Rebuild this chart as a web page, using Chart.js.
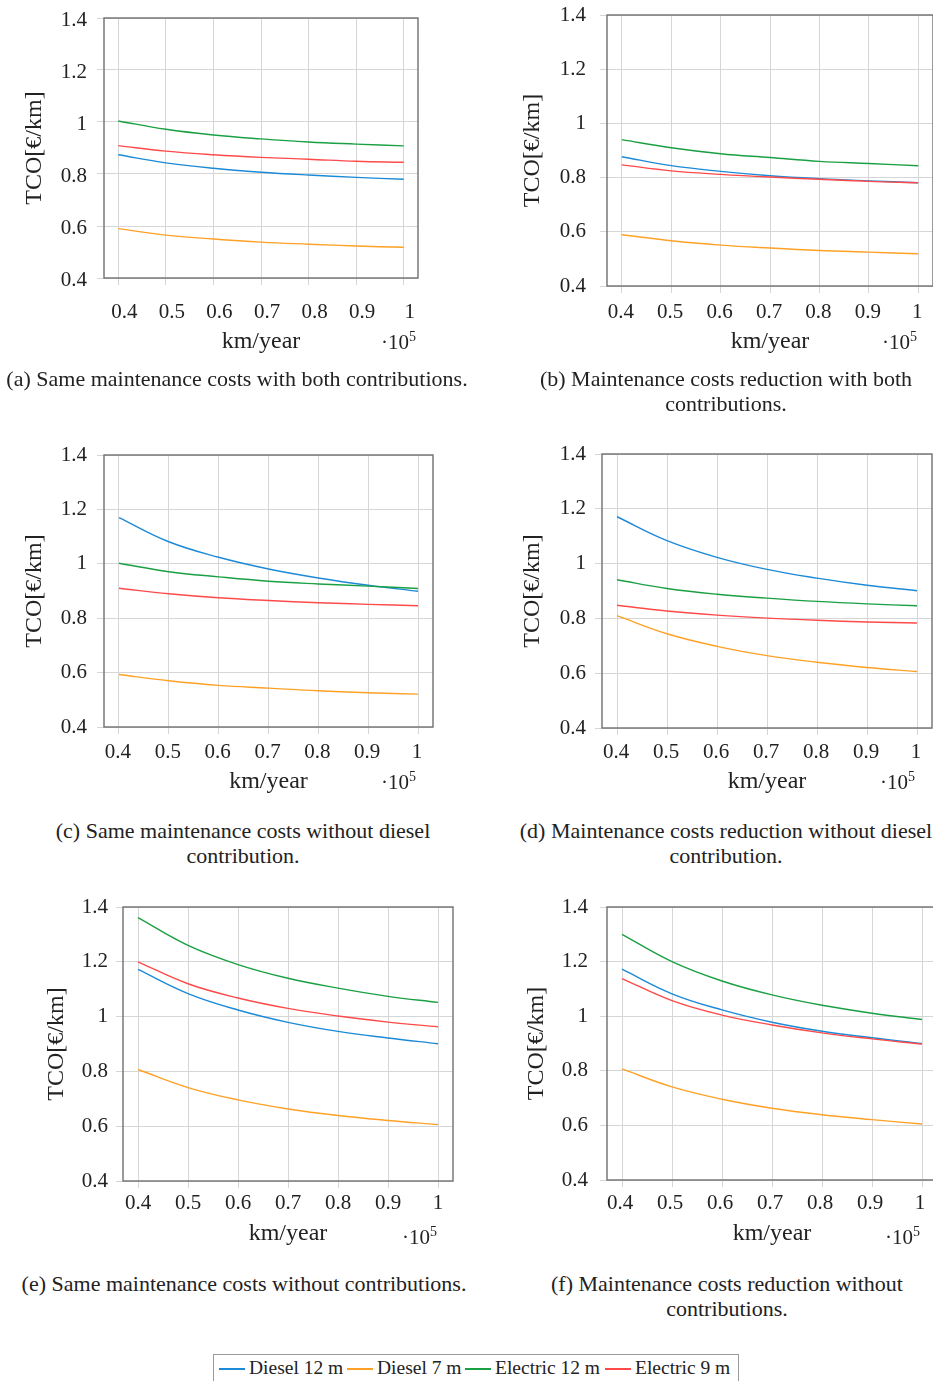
<!DOCTYPE html>
<html>
<head>
<meta charset="utf-8">
<script src="https://cdn.jsdelivr.net/npm/chart.js@4"></script>
<style>
  html, body { margin: 0; padding: 0; background: #fff; }
  #page { position: relative; width: 933px; height: 1381px; overflow: hidden; background: #fff;
          font-family: "Liberation Serif", "DejaVu Serif", serif; color: #222; }
  canvas { position: absolute; }
  .cap { position: absolute; text-align: center; font-size: 22px; line-height: 25px; white-space: nowrap; }
  .pow { position: absolute; width: 120px; text-align: right; font-size: 21px; line-height: 24px; white-space: nowrap; }
  .pow sup { font-size: 14px; vertical-align: 8px; line-height: 0; }
  #legend { position: absolute; left: 213px; top: 1354px; width: 526px; height: 34px; border: 1px solid #9a9a9a;
            box-sizing: border-box; font-size: 19.5px; line-height: 24px; }
  .sw { position: absolute; top: 13px; width: 26px; height: 1.5px; }
  .lt { position: absolute; top: 1px; white-space: nowrap; }
</style>
</head>
<body>
<div id="page"></div>
<script>
// ---------- data ----------
const kmYear = [0.4, 0.5, 0.6, 0.7, 0.8, 0.9, 1.0];          // ×10^5 km/year
const xTickValues = [0.4, 0.5, 0.6, 0.7, 0.8, 0.9, 1.0];
const xTickLabels = ['0.4', '0.5', '0.6', '0.7', '0.8', '0.9', '1'];
const yTickValues = [0.4, 0.6, 0.8, 1.0, 1.2, 1.4];
const yTickLabels = ['0.4', '0.6', '0.8', '1', '1.2', '1.4'];
const seriesNames = ['Diesel 12 m', 'Diesel 7 m', 'Electric 12 m', 'Electric 9 m'];
const xAxisTitle = 'km/year';
const yAxisTitle = 'TCO[€/km]';

// (a) Same maintenance costs with both contributions
const aDiesel12   = [0.874, 0.843, 0.822, 0.807, 0.796, 0.787, 0.780];
const aDiesel7    = [0.590, 0.565, 0.550, 0.538, 0.530, 0.523, 0.518];
const aElectric12 = [1.004, 0.972, 0.950, 0.935, 0.923, 0.915, 0.908];
const aElectric9  = [0.909, 0.888, 0.874, 0.864, 0.857, 0.849, 0.845];
// (b) Maintenance costs reduction with both contributions
const bDiesel12   = [0.877, 0.844, 0.823, 0.807, 0.796, 0.788, 0.781];
const bDiesel7    = [0.589, 0.567, 0.551, 0.540, 0.531, 0.525, 0.519];
const bElectric12 = [0.940, 0.910, 0.888, 0.874, 0.860, 0.852, 0.844];
const bElectric9  = [0.847, 0.825, 0.812, 0.802, 0.794, 0.786, 0.781];
// (c) Same maintenance costs without diesel contribution
const cDiesel12   = [1.170, 1.081, 1.024, 0.981, 0.948, 0.921, 0.899];
const cDiesel7    = [0.593, 0.570, 0.553, 0.543, 0.533, 0.526, 0.521];
const cElectric12 = [1.002, 0.971, 0.952, 0.936, 0.926, 0.918, 0.909];
const cElectric9  = [0.910, 0.890, 0.875, 0.865, 0.857, 0.851, 0.846];
// (d) Maintenance costs reduction without diesel contribution
const dDiesel12   = [1.171, 1.084, 1.023, 0.979, 0.947, 0.921, 0.901];
const dDiesel7    = [0.810, 0.744, 0.698, 0.664, 0.640, 0.621, 0.606];
const dElectric12 = [0.941, 0.909, 0.888, 0.874, 0.862, 0.853, 0.846];
const dElectric9  = [0.848, 0.827, 0.812, 0.801, 0.793, 0.787, 0.783];
// (e) Same maintenance costs without contributions
const eDiesel12   = [1.172, 1.084, 1.024, 0.979, 0.946, 0.922, 0.901];
const eDiesel7    = [0.807, 0.741, 0.696, 0.663, 0.639, 0.621, 0.606];
const eElectric12 = [1.361, 1.260, 1.190, 1.140, 1.104, 1.074, 1.052];
const eElectric9  = [1.200, 1.120, 1.068, 1.030, 1.002, 0.980, 0.963];
// (f) Maintenance costs reduction without contributions
const fDiesel12   = [1.172, 1.082, 1.023, 0.978, 0.945, 0.921, 0.900];
const fDiesel7    = [0.807, 0.741, 0.696, 0.663, 0.639, 0.621, 0.605];
const fElectric12 = [1.300, 1.200, 1.129, 1.078, 1.040, 1.011, 0.988];
const fElectric9  = [1.138, 1.057, 1.004, 0.968, 0.939, 0.917, 0.898];

const captionA = ['(a) Same maintenance costs with both contributions.'];
const captionB = ['(b) Maintenance costs reduction with both', 'contributions.'];
const captionC = ['(c) Same maintenance costs without diesel', 'contribution.'];
const captionD = ['(d) Maintenance costs reduction without diesel', 'contribution.'];
const captionE = ['(e) Same maintenance costs without contributions.'];
const captionF = ['(f) Maintenance costs reduction without', 'contributions.'];

// ---------- styling / layout ----------
const seriesColors = ['#1c8ad6', '#ffa126', '#1aa043', '#ff4a4a'];
const legendSwatchX = [5, 133, 251, 391];     // px inside legend box
const legendTextX = [35, 163, 281, 421];
const FONT = '"Liberation Serif", "DejaVu Serif", serif';
const TICK_SIZE = 21, TITLE_SIZE = 24;
const TICK_LH = TICK_SIZE * 1.2, TITLE_LH = TITLE_SIZE * 1.2;
const TICK_LEN = 7;
const PAD_L = 110, PAD_T = 45, PAD_R = 12, PAD_B = 90;

const panels = [
  { series: [aDiesel12, aDiesel7, aElectric12, aElectric9], caption: captionA,
    L: 104, R: 418, T: 18, B: 278, yGap: 17, yTitleX: 35, xTickY: 312, xTitleY: 342,
    xLabOff: 6, yLabOff: 2, powRight: 416, powY: 342, capX: 237, capY: 366 },
  { series: [bDiesel12, bDiesel7, bElectric12, bElectric9], caption: captionB,
    L: 607, R: 933, T: 15, B: 286, yGap: 21, yTitleX: 533, xTickY: 312, xTitleY: 342,
    xLabOff: -1, yLabOff: 0, powRight: 917, powY: 342, capX: 726, capY: 366 },
  { series: [cDiesel12, cDiesel7, cElectric12, cElectric9], caption: captionC,
    L: 104, R: 433, T: 455, B: 727, yGap: 17, yTitleX: 35, xTickY: 752, xTitleY: 782,
    xLabOff: -1, yLabOff: 0, powRight: 416, powY: 782, capX: 243, capY: 818 },
  { series: [dDiesel12, dDiesel7, dElectric12, dElectric9], caption: captionD,
    L: 602, R: 932, T: 454, B: 728, yGap: 16, yTitleX: 533, xTickY: 752, xTitleY: 782,
    xLabOff: -1, yLabOff: 0, powRight: 915, powY: 782, capX: 726, capY: 818 },
  { series: [eDiesel12, eDiesel7, eElectric12, eElectric9], caption: captionE,
    L: 123, R: 453, T: 907, B: 1181, yGap: 15, yTitleX: 57, xTickY: 1203, xTitleY: 1234,
    xLabOff: 0, yLabOff: 0, powRight: 437, powY: 1237, capX: 244, capY: 1271 },
  { series: [fDiesel12, fDiesel7, fElectric12, fElectric9], caption: captionF,
    L: 607, R: 937, T: 907, B: 1180, yGap: 19, yTitleX: 537, xTickY: 1203, xTitleY: 1234,
    xLabOff: -2, yLabOff: 0, powRight: 920, powY: 1237, capX: 727, capY: 1271 }
];

const framePlugin = {
  id: 'frame',
  afterDraw(chart) {
    const a = chart.chartArea, ctx = chart.ctx;
    ctx.save();
    ctx.strokeStyle = '#6f6f6f';
    ctx.lineWidth = 1.4;
    ctx.strokeRect(a.left, a.top, a.right - a.left, a.bottom - a.top);
    ctx.restore();
  }
};

const page = document.getElementById('page');

panels.forEach((p) => {
  const cv = document.createElement('canvas');
  const w = p.R - p.L + PAD_L + PAD_R, h = p.B - p.T + PAD_T + PAD_B;
  cv.style.left = (p.L - PAD_L) + 'px';
  cv.style.top = (p.T - PAD_T) + 'px';
  cv.style.width = w + 'px';
  cv.style.height = h + 'px';
  cv.width = w; cv.height = h;
  page.appendChild(cv);

  const datasets = p.series.map((vals, i) => ({
    label: seriesNames[i],
    data: kmYear.map((x, k) => ({ x: x, y: vals[k] })),
    borderColor: seriesColors[i],
    backgroundColor: seriesColors[i],
    borderWidth: 1.4,
    pointRadius: 0,
    fill: false,
    tension: 0.4,
    order: 4 - i
  }));

  new Chart(cv, {
    type: 'line',
    data: { datasets },
    options: {
      responsive: false,
      animation: false,
      devicePixelRatio: 1,
      layout: { padding: { left: 0, top: PAD_T, right: PAD_R, bottom: 0 } },
      plugins: { legend: { display: false }, tooltip: { enabled: false } },
      scales: {
        x: {
          type: 'linear', min: 0.37, max: 1.03,
          afterBuildTicks: (s) => { s.ticks = xTickValues.map(v => ({ value: v })); },
          afterFit: (s) => { s.height = PAD_B; },
          ticks: {
            callback: (v, i) => xTickLabels[i],
            font: { family: FONT, size: TICK_SIZE }, color: '#222',
            padding: p.xTickY - p.B - TICK_LEN - TICK_LH / 2,
            labelOffset: p.xLabOff, maxRotation: 0, autoSkip: false
          },
          grid: { color: '#d6d6d6', lineWidth: 1, drawTicks: true, tickLength: TICK_LEN, tickColor: '#d6d6d6' },
          border: { display: false },
          title: { display: true, text: xAxisTitle, font: { family: FONT, size: TITLE_SIZE }, color: '#222',
                   padding: { top: 0, bottom: p.B + PAD_B - TITLE_LH / 2 - p.xTitleY } }
        },
        y: {
          type: 'linear', min: 0.4, max: 1.4,
          afterBuildTicks: (s) => { s.ticks = yTickValues.map(v => ({ value: v })); },
          afterFit: (s) => { s.width = PAD_L; },
          ticks: {
            callback: (v, i) => yTickLabels[i],
            font: { family: FONT, size: TICK_SIZE }, color: '#222',
            padding: p.yGap - TICK_LEN, labelOffset: p.yLabOff, autoSkip: false
          },
          grid: { color: '#d6d6d6', lineWidth: 1, drawTicks: true, tickLength: TICK_LEN, tickColor: '#d6d6d6' },
          border: { display: false },
          title: { display: true, text: yAxisTitle, font: { family: FONT, size: TITLE_SIZE }, color: '#222',
                   padding: { top: p.yTitleX - (p.L - PAD_L) - TITLE_LH / 2, bottom: 0 } }
        }
      }
    },
    plugins: [framePlugin]
  });

  const pow = document.createElement('div');
  pow.className = 'pow';
  pow.style.left = (p.powRight - 120) + 'px';
  pow.style.top = (p.powY - 12) + 'px';
  pow.innerHTML = '·10<sup>5</sup>';
  page.appendChild(pow);

  const cap = document.createElement('div');
  cap.className = 'cap';
  cap.style.left = (p.capX - 300) + 'px';
  cap.style.width = '600px';
  cap.style.top = p.capY + 'px';
  cap.innerHTML = p.caption.join('<br>');
  page.appendChild(cap);
});

// shared legend
const legend = document.createElement('div');
legend.id = 'legend';
seriesNames.forEach((n, i) => {
  const sw = document.createElement('div');
  sw.className = 'sw';
  sw.style.left = legendSwatchX[i] + 'px';
  sw.style.background = seriesColors[i];
  legend.appendChild(sw);
  const t = document.createElement('div');
  t.className = 'lt';
  t.style.left = legendTextX[i] + 'px';
  t.textContent = n;
  legend.appendChild(t);
});
page.appendChild(legend);
</script>
</body>
</html>
